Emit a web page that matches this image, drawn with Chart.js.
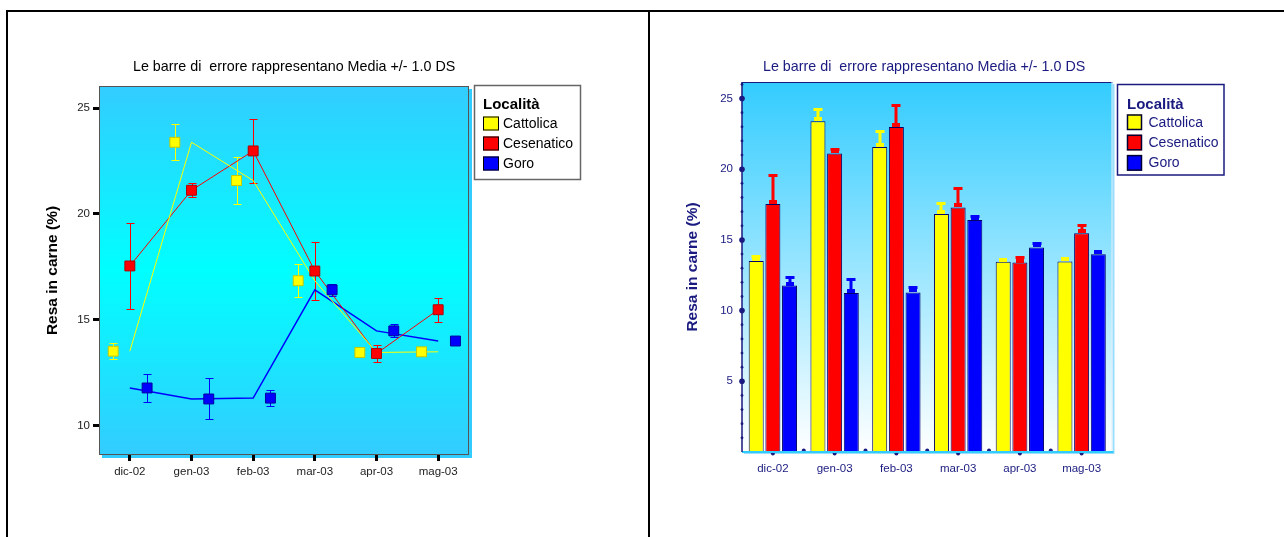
<!DOCTYPE html>
<html>
<head>
<meta charset="utf-8">
<script src="https://cdn.jsdelivr.net/npm/chart.js@4.4.0/dist/chart.umd.min.js"></script>
<style>
html,body{margin:0;padding:0;background:#fff;width:1284px;height:537px;overflow:hidden;}
.frame{position:absolute;background:#000;z-index:5;}
#wl{position:absolute;left:0;top:0;width:648px;height:537px;}
#wr{position:absolute;left:650px;top:0;width:634px;height:537px;}
canvas{display:block;}
</style>
</head>
<body>
<div id="wl"><canvas id="cl" width="648" height="537"></canvas></div>
<div id="wr"><canvas id="cr" width="634" height="537"></canvas></div>
<div class="frame" style="left:6px;top:10px;width:1290px;height:2px;"></div>
<div class="frame" style="left:6px;top:10px;width:2px;height:540px;"></div>
<div class="frame" style="left:648px;top:10px;width:2px;height:540px;"></div>
<script>
// ---------- data ----------
const categories = ['dic-02', 'gen-03', 'feb-03', 'mar-03', 'apr-03', 'mag-03'];
const seriesNames = ['Cattolica', 'Cesenatico', 'Goro'];
const cattolicaMean  = [13.51, 23.39, 21.58, 16.84, 13.45, 13.48];
const cattolicaSD    = [0.37, 0.85, 1.12, 0.78, 0, 0];
const cesenaticoMean = [17.54, 21.12, 22.98, 17.30, 13.40, 15.47];
const cesenaticoSD   = [2.03, 0.33, 1.53, 1.37, 0.40, 0.57];
const goroMean       = [11.77, 11.25, 11.29, 16.41, 14.47, 13.99];
const goroSD         = [0.64, 0.97, 0.39, 0.29, 0.31, 0];
const yTicksLeft  = [10, 15, 20, 25];
const yTicksRight = [5, 10, 15, 20, 25];
const titleText   = 'Le barre di  errore rappresentano Media +/- 1.0 DS';
const yAxisTitle  = 'Resa in carne (%)';
const legendTitle = 'Località';

// ---------- styles ----------
const FONT = "'Liberation Sans', Arial, Helvetica, sans-serif";
const NAVY = '#1a1a80';
const colors = ['#ffff00', '#ff0000', '#0000ff'];
const markerEdge = ['#c8c800', '#b00000', '#0000a0'];
const markerShift = [-0.27, 0, 0.28];
const means = [cattolicaMean, cesenaticoMean, goroMean];
const sds = [cattolicaSD, cesenaticoSD, goroSD];

Chart.defaults.font.family = FONT;

function drawLegend(ctx, L) {
  ctx.save();
  ctx.fillStyle = '#fff';
  ctx.fillRect(L.x, L.y, L.w, L.h);
  ctx.strokeStyle = L.border; ctx.lineWidth = L.bw;
  ctx.strokeRect(L.x, L.y, L.w, L.h);
  ctx.textAlign = 'left'; ctx.textBaseline = 'middle';
  ctx.fillStyle = L.text;
  ctx.font = 'bold 15px ' + FONT;
  ctx.fillText(legendTitle, L.tx, L.ty);
  ctx.font = '14px ' + FONT;
  seriesNames.forEach((name, k) => {
    const y = L.sy + k * L.step;
    ctx.fillStyle = colors[k];
    ctx.fillRect(L.sx, y, L.sw, L.sh);
    ctx.strokeStyle = L.swBorder; ctx.lineWidth = L.swbw;
    ctx.strokeRect(L.sx + 0.5, y + 0.5, L.sw - 1, L.sh - 1);
    ctx.fillStyle = L.text;
    ctx.fillText(name, L.lx, y + L.sh / 2 + 0.5);
  });
  ctx.restore();
}

// ---------- left chart ----------
const leftDatasets = [];
means.forEach((m, k) => {
  leftDatasets.push({
    type: 'line', label: seriesNames[k] + ' linea',
    data: m.map((v, i) => ({x: i, y: v})),
    borderColor: colors[k], borderWidth: k === 2 ? 1.5 : 1,
    pointRadius: 0, fill: false, tension: 0, order: 3
  });
});
means.forEach((m, k) => {
  leftDatasets.push({
    type: 'line', label: seriesNames[k], showLine: false,
    data: m.map((v, i) => ({x: i + markerShift[k], y: v})),
    pointStyle: 'rect', pointRadius: 7,
    pointBackgroundColor: colors[k], pointBorderColor: markerEdge[k], pointBorderWidth: 1,
    order: 1
  });
});

const leftDecor = {
  id: 'leftDecor',
  beforeDraw(chart) {
    const {ctx, chartArea: a} = chart;
    ctx.save();
    ctx.fillStyle = '#33ccff';
    ctx.fillRect(a.left + 3, a.top + 3, a.width, a.height);
    const g = ctx.createLinearGradient(0, a.top, 0, a.bottom);
    g.addColorStop(0, '#33ccff'); g.addColorStop(0.5, '#00ffff'); g.addColorStop(1, '#33ccff');
    ctx.fillStyle = g;
    ctx.fillRect(a.left, a.top, a.width, a.height);
    ctx.strokeStyle = '#555'; ctx.lineWidth = 1;
    ctx.strokeRect(a.left + 0.5, a.top + 0.5, a.width - 1, a.height - 1);
    ctx.restore();
  },
  beforeDatasetsDraw(chart) {
    const {ctx, scales: {x, y}} = chart;
    ctx.save();
    ctx.lineWidth = 1;
    means.forEach((m, k) => {
      ctx.strokeStyle = colors[k];
      m.forEach((v, i) => {
        const sd = sds[k][i];
        if (!sd) return;
        const px = Math.round(x.getPixelForValue(i + markerShift[k])) + 0.5;
        const yh = Math.round(y.getPixelForValue(v + sd)) + 0.5;
        const yl = Math.round(y.getPixelForValue(v - sd)) + 0.5;
        ctx.beginPath();
        ctx.moveTo(px, yh); ctx.lineTo(px, yl);
        ctx.moveTo(px - 4, yh); ctx.lineTo(px + 4, yh);
        ctx.moveTo(px - 4, yl); ctx.lineTo(px + 4, yl);
        ctx.stroke();
      });
    });
    ctx.restore();
  },
  afterDraw(chart) {
    const ctx = chart.ctx;
    ctx.save();
    ctx.fillStyle = '#000';
    ctx.font = '14.3px ' + FONT;
    ctx.textAlign = 'left'; ctx.textBaseline = 'middle';
    ctx.fillText(titleText, 133, 67);
    ctx.restore();
    drawLegend(ctx, {x: 474.5, y: 85.5, w: 106, h: 94, border: '#666', bw: 1.5,
      text: '#000', tx: 483, ty: 105, sx: 483, sy: 116.5, sw: 16, sh: 14, step: 20,
      lx: 503, swBorder: '#000', swbw: 1});
  }
};

const tickGrid = {display: true, drawOnChartArea: false, drawTicks: true, tickLength: 6,
  tickWidth: 3, tickColor: '#000', color: '#000', lineWidth: 3};

new Chart(document.getElementById('cl'), {
  type: 'line',
  data: {datasets: leftDatasets},
  options: {
    responsive: false, animation: false, devicePixelRatio: 1,
    layout: {padding: {left: 0, top: 86, right: 179, bottom: 42}},
    plugins: {legend: {display: false}, tooltip: {enabled: false}, title: {display: false}},
    scales: {
      x: {
        type: 'linear', min: -0.5, max: 5.5,
        afterBuildTicks: s => { s.ticks = categories.map((c, i) => ({value: i})); },
        afterFit: s => { s.height = 40; },
        grid: tickGrid, border: {display: false},
        ticks: {callback: v => categories[Math.round(v)], autoSkip: false, maxRotation: 0,
          font: {size: 11.5}, color: '#222', padding: 4}
      },
      y: {
        type: 'linear', min: 8.6, max: 26.05,
        afterBuildTicks: s => { s.ticks = yTicksLeft.map(v => ({value: v})); },
        afterFit: s => { s.width = 99; },
        grid: tickGrid, border: {display: false},
        ticks: {font: {size: 11.5}, color: '#222', padding: 3},
        title: {display: true, text: yAxisTitle, font: {size: 15.5, weight: 'bold'}, color: '#000',
          padding: {top: 43, bottom: 0}}
      }
    }
  },
  plugins: [leftDecor]
});

// ---------- right chart ----------
const rightDecor = {
  id: 'rightDecor',
  beforeDraw(chart) {
    const {ctx, chartArea: a} = chart;
    ctx.save();
    ctx.fillStyle = '#99ddff';
    ctx.fillRect(a.left + 2, a.top + 2, a.width, a.height);
    const g = ctx.createLinearGradient(0, a.top, 0, a.bottom);
    g.addColorStop(0, '#33ccff'); g.addColorStop(1, '#ffffff');
    ctx.fillStyle = g;
    ctx.fillRect(a.left, a.top, a.width, a.height);
    ctx.fillStyle = NAVY;
    ctx.fillRect(a.left, a.top, a.width, 1);
    ctx.fillStyle = '#e6eef6';
    ctx.fillRect(a.right - 1, a.top, 1, a.height);
    ctx.restore();
  },
  afterDatasetsDraw(chart) {
    const {ctx, scales: {x, y}, chartArea: a} = chart;
    ctx.save();
    // error bars (upper half)
    means.forEach((m, k) => {
      const meta = chart.getDatasetMeta(k);
      ctx.fillStyle = colors[k];
      meta.data.forEach((bar, i) => {
        const cx = Math.round(bar.x);
        const yt = Math.round(y.getPixelForValue(m[i]));
        const ye = Math.round(y.getPixelForValue(m[i] + sds[k][i]));
        ctx.fillRect(cx - 4, yt - 4, 8, 4);
        if (sds[k][i]) {
          ctx.fillRect(cx - 1.5, ye, 3, yt - ye);
          ctx.fillRect(cx - 4.5, ye - 1, 9, 3);
        }
      });
    });
    // x axis
    const n = categories.length;
    ctx.fillStyle = NAVY;
    for (let i = 0; i < n; i++) {
      const c = x.getPixelForValue(i);
      ctx.beginPath(); ctx.arc(c, a.bottom + 1.5, 2, 0, Math.PI * 2); ctx.fill();
      if (i > 0) {
        const b = (c + x.getPixelForValue(i - 1)) / 2;
        ctx.beginPath(); ctx.arc(b, a.bottom - 1.5, 2, 0, Math.PI * 2); ctx.fill();
      }
    }
    ctx.fillStyle = '#33ccff';
    ctx.fillRect(a.left, a.bottom - 1, a.width + 1, 2);
    // y axis
    ctx.fillStyle = NAVY;
    ctx.fillRect(a.left - 0.75, a.top, 1.5, a.height);
    for (let v = 1; v <= Math.floor(y.max); v++) {
      const py = y.getPixelForValue(v);
      const r = v % 5 === 0 ? 2.8 : 1.4;
      ctx.beginPath(); ctx.arc(a.left, py, r, 0, Math.PI * 2); ctx.fill();
    }
    ctx.restore();
  },
  afterDraw(chart) {
    const ctx = chart.ctx;
    ctx.save();
    ctx.fillStyle = NAVY;
    ctx.font = '14.3px ' + FONT;
    ctx.textAlign = 'left'; ctx.textBaseline = 'middle';
    ctx.fillText(titleText, 113, 67);
    ctx.restore();
    drawLegend(ctx, {x: 467.5, y: 84.5, w: 106.5, h: 90.5, border: NAVY, bw: 1.5,
      text: NAVY, tx: 477, ty: 105, sx: 477, sy: 114.5, sw: 15, sh: 15.5, step: 20.3,
      lx: 498.5, swBorder: '#000033', swbw: 1.5});
  }
};

new Chart(document.getElementById('cr'), {
  type: 'bar',
  data: {
    labels: categories,
    datasets: means.map((m, k) => ({
      label: seriesNames[k], data: m,
      backgroundColor: colors[k], borderColor: '#000066', borderWidth: 1,
      categoryPercentage: 0.81, barPercentage: 0.9
    }))
  },
  options: {
    responsive: false, animation: false, devicePixelRatio: 1,
    layout: {padding: {left: 0, top: 82, right: 171.5, bottom: 45}},
    plugins: {legend: {display: false}, tooltip: {enabled: false}, title: {display: false}},
    scales: {
      x: {
        afterFit: s => { s.height = 40; },
        grid: {display: false, drawTicks: false}, border: {display: false},
        ticks: {font: {size: 11.5}, color: NAVY, padding: 10, maxRotation: 0, autoSkip: false}
      },
      y: {
        type: 'linear', min: 0, max: 26.17,
        afterBuildTicks: s => { s.ticks = yTicksRight.map(v => ({value: v})); },
        afterFit: s => { s.width = 92; },
        grid: {display: false, drawTicks: false}, border: {display: false},
        ticks: {font: {size: 11.5}, color: NAVY, padding: 9},
        title: {display: true, text: yAxisTitle, font: {size: 15.5, weight: 'bold'}, color: NAVY,
          padding: {top: 33.5, bottom: 0}}
      }
    }
  },
  plugins: [rightDecor]
});
</script>
</body>
</html>
